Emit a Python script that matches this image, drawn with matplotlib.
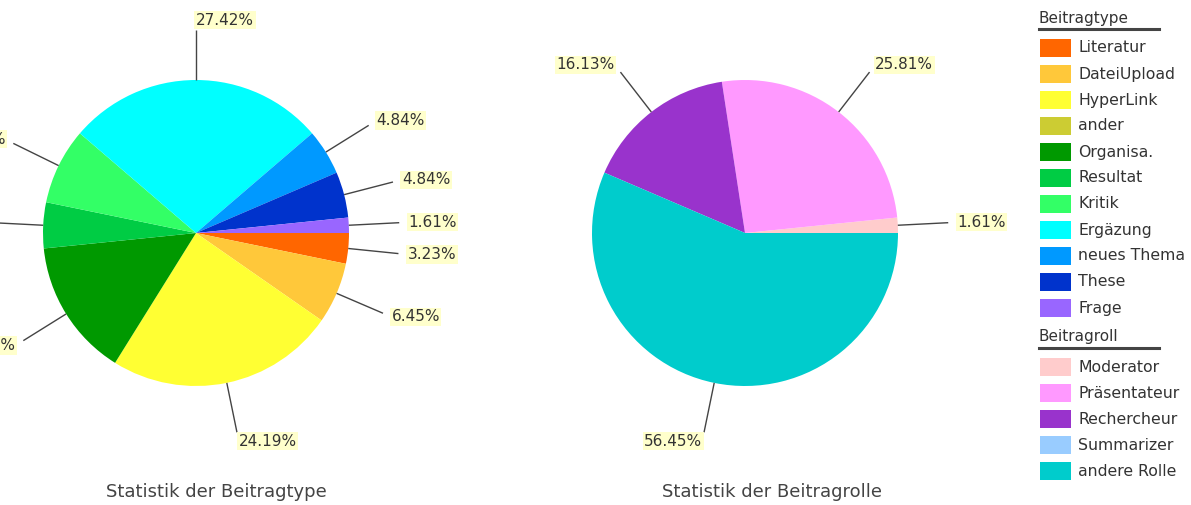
import matplotlib
matplotlib.use("Agg")
import matplotlib.pyplot as plt
import numpy as np
from matplotlib.patches import Rectangle

# ---- data ----
type_labels = ["Literatur", "DateiUpload", "HyperLink", "ander", "Organisa.", "Resultat",
               "Kritik", "Ergäzung", "neues Thema", "These", "Frage"]
type_counts = [2, 4, 15, 0, 9, 3, 5, 17, 3, 3, 1]
type_colors = ["#FF6600", "#FFC83A", "#FFFF33", "#CCCC33", "#009900", "#00CC44",
               "#33FF66", "#00FFFF", "#0099FF", "#0033CC", "#9966FF"]

role_labels = ["Moderator", "Präsentateur", "Rechercheur", "Summarizer", "andere Rolle"]
role_counts = [1, 16, 10, 0, 35]
role_colors = ["#FFCCCC", "#FF99FF", "#9933CC", "#99CCFF", "#00CCCC"]

titles = ["Statistik der Beitragtype", "Statistik der Beitragrolle"]
legend_heads = ["Beitragtype", "Beitragroll"]

W, H = 1191, 505
fig = plt.figure(figsize=(W / 100, H / 100), dpi=100)
ax = fig.add_axes([0, 0, 1, 1])

TXT = "#333333"
R = 153


def draw_pie(counts, colors, center, counterclock):
    wedges, _ = ax.pie(counts, colors=colors, center=center, radius=R, startangle=0,
                       counterclock=counterclock, wedgeprops=dict(linewidth=0))
    total = sum(counts)
    cx, cy = center
    for w, c in zip(wedges, counts):
        if c == 0:
            continue
        mid = np.deg2rad((w.theta1 + w.theta2) / 2.0)
        ca, sa = np.cos(mid), np.sin(mid)
        ax.plot([cx + R * ca, cx + 1.33 * R * ca], [cy + R * sa, cy + 1.33 * R * sa],
                color="#444444", lw=1.0, solid_capstyle="butt")
        tx, ty = cx + 1.39 * R * ca, cy + 1.39 * R * sa
        ax.text(tx, ty, f"{100.0 * c / total:.2f}%", ha="left" if ca >= -1e-9 else "right",
                va="center", fontsize=11, color=TXT,
                bbox=dict(boxstyle="square,pad=0.1", fc="#FFFFCC", ec="none"))


draw_pie(type_counts, type_colors, (196, H - 233), counterclock=False)
draw_pie(role_counts, role_colors, (745, H - 233), counterclock=True)

ax.text(216, H - 492, titles[0], ha="center", va="center", fontsize=13, color="#444444")
ax.text(772, H - 492, titles[1], ha="center", va="center", fontsize=13, color="#444444")


# ---- legend ----
def legend_block(head, labels, colors, head_y, first_y):
    ax.text(1039, H - head_y, head, ha="left", va="center", fontsize=11, color=TXT)
    ax.plot([1039, 1159], [H - head_y - 11, H - head_y - 11], color="#444444", lw=2.2)
    for i, (lab, col) in enumerate(zip(labels, colors)):
        y = first_y + 26 * i
        ax.add_patch(Rectangle((1040, H - y - 9), 31, 18, fc=col, ec="none"))
        ax.text(1078, H - y, lab, ha="left", va="center", fontsize=11.3, color=TXT)


legend_block(legend_heads[0], type_labels, type_colors, 18, 48)
legend_block(legend_heads[1], role_labels, role_colors, 337, 367)

ax.set_xlim(0, W)
ax.set_ylim(0, H)
ax.set_aspect("auto")
ax.axis("off")

fig.savefig("out.png", dpi=100, facecolor="white")
